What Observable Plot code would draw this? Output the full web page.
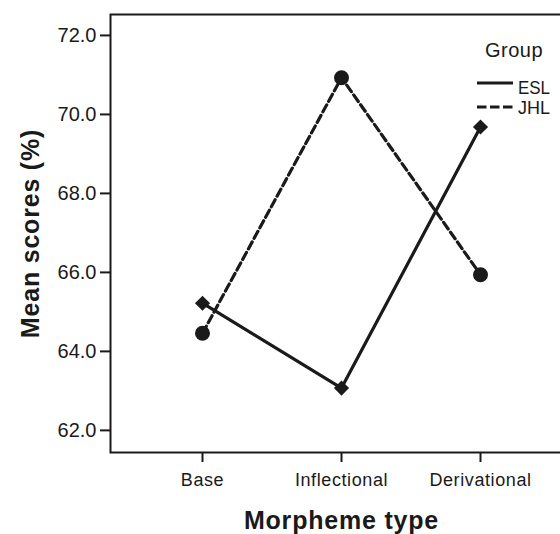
<!DOCTYPE html>
<html><head><meta charset="utf-8">
<script src="https://cdn.jsdelivr.net/npm/d3@7"></script>
<script src="https://cdn.jsdelivr.net/npm/@observablehq/plot@0.6"></script>
<style>
html,body{margin:0;padding:0;background:#fff;overflow:hidden;width:560px;height:534px}
#chart{width:560px;height:534px;overflow:hidden}
#chart svg{max-width:none !important;}
</style></head><body><div id="chart"></div>
<script>
const categories = ["Base", "Inflectional", "Derivational"];
const groups = ["ESL", "JHL"];
const eslScores = [65.22, 63.07, 69.68];
const jhlScores = [64.46, 70.93, 65.94];
const yTicks = [62, 64, 66, 68, 70, 72];
const yTickLabels = ["62.0", "64.0", "66.0", "68.0", "70.0", "72.0"];
const yDomain = [61.44, 72.53];
const legendTitle = "Group";
const xTitle = "Morpheme type";
const yTitle = "Mean scores (%)";

const data = [
  ...categories.map((c, i) => ({type: c, group: groups[0], score: eslScores[i]})),
  ...categories.map((c, i) => ({type: c, group: groups[1], score: jhlScores[i]}))
];
const esl = data.filter(d => d.group === groups[0]);
const jhl = data.filter(d => d.group === groups[1]);
const font = "'Liberation Sans', Arial, Helvetica, sans-serif";
const ink = "#1a1a1a";

const svg = Plot.plot({
  width: 575, height: 534,
  marginLeft: 110, marginRight: 3, marginTop: 14, marginBottom: 82,
  style: {fontFamily: font, background: "#fff", color: ink, maxWidth: "none"},
  x: {domain: categories, type: "point", padding: 0.658, axis: null},
  y: {domain: yDomain, axis: null},
  marks: [
    Plot.axisY({ticks: yTicks, tickFormat: d => yTickLabels[yTicks.indexOf(d)], tickSize: 10, tickPadding: 4, fontSize: 20, strokeWidth: 2, stroke: ink, fill: ink, label: null}),
    Plot.axisX({tickSize: 10, tickPadding: 11, fontSize: 18, strokeWidth: 2, stroke: ink, fill: ink, label: null}),
    Plot.frame({stroke: ink, strokeWidth: 2}),
    Plot.line(jhl, {x: "type", y: "score", stroke: ink, strokeWidth: 3.2, strokeDasharray: "8,4"}),
    Plot.line(esl, {x: "type", y: "score", stroke: ink, strokeWidth: 3.2}),
    Plot.dot(esl, {x: "type", y: "score", symbol: "diamond2", r: 6.8, fill: ink, stroke: "none"}),
    Plot.dot(jhl, {x: "type", y: "score", symbol: "circle", r: 7.5, fill: ink, stroke: "none"}),
    Plot.text([yTitle], {text: d => d, frameAnchor: "left", rotate: -90, dx: -80, fontSize: 25, fontWeight: "bold", textAnchor: "middle", lineAnchor: "middle", fill: ink}),
    Plot.text([xTitle], {text: d => d, frameAnchor: "bottom", dy: 68, fontSize: 25, fontWeight: "bold", textAnchor: "middle", lineAnchor: "middle", fill: ink})
  ]
});
svg.style.maxWidth = "none";
svg.style.width = "575px";
svg.style.height = "534px";

const s = d3.select(svg);
s.selectAll('[aria-label="x-axis tick label"] text').style("letter-spacing", "0.6px");
s.selectAll('[aria-label="text"] text').style("letter-spacing", "0.8px");

// Legend
const lg = s.append("g").attr("font-family", font).attr("fill", ink);
lg.append("text").attr("x", 514).attr("y", 57).attr("text-anchor", "middle").attr("font-size", 20).style("letter-spacing", "0.5px").text(legendTitle);
const items = [
  {label: groups[0], y: 83, dash: null, ty: 93.5},
  {label: groups[1], y: 107, dash: "9.5,3.5", ty: 114}
];
items.forEach(it => {
  lg.append("line").attr("x1", 477).attr("x2", 513).attr("y1", it.y).attr("y2", it.y)
    .attr("stroke", ink).attr("stroke-width", 3).attr("stroke-dasharray", it.dash);
  lg.append("text").attr("x", 518).attr("y", it.ty).attr("font-size", 18).attr("text-anchor", "start")
    .attr("textLength", 32).attr("lengthAdjust", "spacingAndGlyphs").text(it.label);
});

document.getElementById("chart").appendChild(svg);
</script></body></html>
